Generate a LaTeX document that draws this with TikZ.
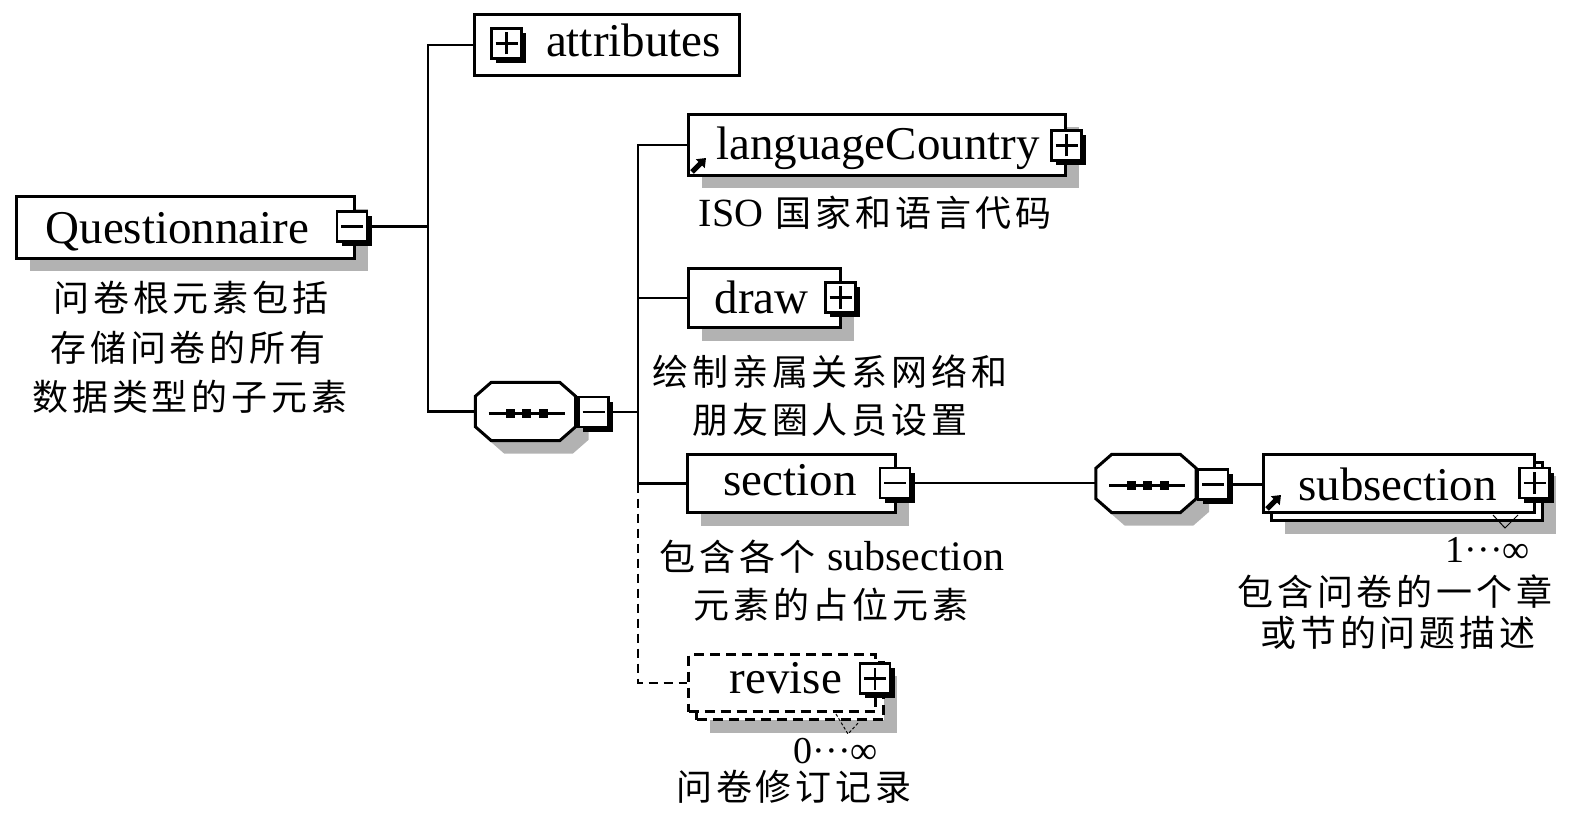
\documentclass[tikz,border=0pt]{standalone}
\usepackage{fontspec}
\setmainfont{Liberation Serif}
\newfontfamily\cjk[LetterSpace=11]{Noto Sans CJK SC}
\usetikzlibrary{calc,shadows,arrows.meta}
\tikzset{
  elem/.style={draw, line width=3pt, fill=white, inner sep=0pt,
    drop shadow={shadow xshift=13pt, shadow yshift=-13pt, fill=black!30, opacity=1}},
  plainbox/.style={draw, line width=3pt, fill=white, inner sep=0pt},
  dashelem/.style={elem, line width=2.6pt, dash pattern=on 10pt off 6pt},
  dashplain/.style={plainbox, line width=2.6pt, dash pattern=on 10pt off 6pt},
  pm/.style={draw, line width=2.6pt, fill=white, minimum width=30pt, minimum height=30pt, inner sep=0pt,
    drop shadow={shadow xshift=4.5pt, shadow yshift=-4.5pt, fill=black, opacity=1}},
  plusbox/.style={pm, path picture={
    \draw[line width=2.5pt] ([xshift=-11pt]path picture bounding box.center) -- ([xshift=11pt]path picture bounding box.center)
      ([yshift=-11pt]path picture bounding box.center) -- ([yshift=11pt]path picture bounding box.center);}},
  minusbox/.style={pm, path picture={
    \draw[line width=2.5pt] ([xshift=-11pt]path picture bounding box.center) -- ([xshift=11pt]path picture bounding box.center);}},
  ename/.style={font=\fontsize{47}{50}\selectfont, inner sep=0pt, anchor=base},
  capt/.style={font=\cjk\fontsize{36}{40}\selectfont, inner sep=0pt},
  mult/.style={font=\fontsize{38}{40}\selectfont, inner sep=0pt, anchor=base},
  conn/.style={line width=2.8pt},
  dconn/.style={line width=2.8pt, dash pattern=on 9pt off 6pt},
  refarrow/.style={line width=5pt, -{Triangle[length=8pt,width=12pt]}},
}
\newcommand{\octa}[1]{%
  \fill[black!30] ($(#1.north west)+(29,13)$) -- ($(#1.north east)+(-3,13)$) -- ($(#1.north east)+(13,27)$) -- ($(#1.south east)+(13,-1)$) -- ($(#1.south east)+(-3,13)$) -- ($(#1.south west)+(29,13)$) -- ($(#1.south west)+(13,-1)$) -- ($(#1.north west)+(13,27)$) -- cycle;
  \draw[line width=3pt, fill=white] ($(#1.north west)+(16,0)$) -- ($(#1.north east)+(-16,0)$) -- ($(#1.north east)+(0,14)$) -- ($(#1.south east)+(0,-14)$) -- ($(#1.south east)+(-16,0)$) -- ($(#1.south west)+(16,0)$) -- ($(#1.south west)+(0,-14)$) -- ($(#1.north west)+(0,14)$) -- cycle;
  \draw[line width=2.8pt] ($(#1.center)+(-37,2)$) -- ($(#1.center)+(39,2)$);
  \foreach \d in {-15,1,18} {\fill ($(#1.center)+(\d,2)$) ++(-4.5,-4.5) rectangle ++(9,9);}
}
\begin{document}
\begin{tikzpicture}[x=1pt,y=-1pt]
\useasboundingbox (0,0) rectangle (1575,813);
\coordinate (b1) at (428,0);
\coordinate (b2) at (638,0);

% Questionnaire
\node[elem, minimum width=338pt, minimum height=62pt] (q) at (185.5,227.5) {};
\node[ename] (qt) at (177.5,244) {Questionnaire};
\node[minusbox] (qm) at (352,226.5) {};
\node[capt] (qc1) at (191,298) {问卷根元素包括};
\node[capt] (qc2) at (188,348) {存储问卷的所有};
\node[capt] (qc3) at (190,397) {数据类型的子元素};

% attributes
\node[plainbox, minimum width=265pt, minimum height=61pt] (att) at (607,45) {};
\node[ename] (attt) at (633.5,57) {attributes};
\node[plusbox] (attp) at (506.5,43.5) {};

% sequence 1
\node[minimum width=100pt, minimum height=58pt, inner sep=0pt] (seq1) at (525.5,411.5) {};
\octa{seq1}
\node[minusbox] (s1m) at (593.5,412) {};

% languageCountry
\node[elem, minimum width=377pt, minimum height=61pt] (lc) at (877,145) {};
\node[ename] (lct) at (878,160) {languageCountry};
\node[plusbox] (lcp) at (1066.5,145.5) {};
\draw[refarrow] ($(lc.south west)+(5,-5)$) -- ($(lc.south west)+(19,-19)$);
\node[capt] (lcc) at (875,213) {{\rmfamily\fontsize{40}{40}\selectfont ISO} 国家和语言代码};

% draw
\node[elem, minimum width=152pt, minimum height=59pt] (dr) at (764.5,298) {};
\node[ename] (drt) at (761.5,313) {draw};
\node[plusbox] (drp) at (840.5,297.5) {};
\node[capt] (drc1) at (830,372) {绘制亲属关系网络和};
\node[capt] (drc2) at (830,420) {朋友圈人员设置};

% section
\node[elem, minimum width=208pt, minimum height=58pt] (sec) at (791.5,483.5) {};
\node[ename] (sect) at (790,495) {section};
\node[minusbox] (secm) at (895,483) {};
\node[capt] (secc1) at (832,557) {包含各个 {\rmfamily\fontsize{42}{42}\selectfont subsection}};
\node[capt] (secc2) at (831,605) {元素的占位元素};

% revise
\node[dashelem, minimum width=187pt, minimum height=57pt] (revb) at (790,691) {};
\node[dashplain, minimum width=187pt, minimum height=57pt] (revf) at (782,683) {};
\node[ename] (revt) at (786,693) {revise};
\node[plusbox] (revp) at (875,678.5) {};
\draw[line width=1pt, densely dashed] (836,714) -- (848,734) -- (859,722);
\node[mult] (revm) at (836,763) {0···∞};
\node[capt] (revc) at (794,787) {问卷修订记录};

% sequence 2
\node[minimum width=100pt, minimum height=58pt, inner sep=0pt] (seq2) at (1146,483.5) {};
\octa{seq2}
\node[minusbox] (s2m) at (1213,484.5) {};

% subsection
\node[elem, minimum width=271pt, minimum height=58pt] (subb) at (1407,491.5) {};
\node[plainbox, minimum width=271pt, minimum height=58pt] (subf) at (1399,483.5) {};
\node[ename] (subt) at (1397.5,500) {subsection};
\node[plusbox] (subp) at (1534.5,483) {};
\draw[refarrow] ($(subf.south west)+(5,-5)$) -- ($(subf.south west)+(19,-19)$);
\draw[line width=1pt] (1493,515) -- (1505,528) -- (1518,515);
\node[mult] (subm) at (1488,562) {1···∞};
\node[capt] (subc1) at (1395,592) {包含问卷的一个章};
\node[capt] (subc2) at (1398,633) {或节的问题描述};

% connectors
\draw[conn] (qm.east) -- (qm.east -| b1);
\draw[conn] (att.west) -- (att.west -| b1) -- (seq1.west -| b1) -- (seq1.west);
\draw[conn] (s1m.east) -- (s1m.east -| b2);
\draw[conn] (lc.west) -- (lc.west -| b2) -- (sec.west -| b2) -- (sec.west);
\draw[conn] (dr.west) -- (dr.west -| b2);
\draw[dconn] (sec.west -| b2) -- (revf.west -| b2) -- (revf.west);
\draw[conn] (secm.east) -- (secm.east -| seq2.west);
\draw[conn] (s2m.east) -- (s2m.east -| subf.west);
\end{tikzpicture}
\end{document}
